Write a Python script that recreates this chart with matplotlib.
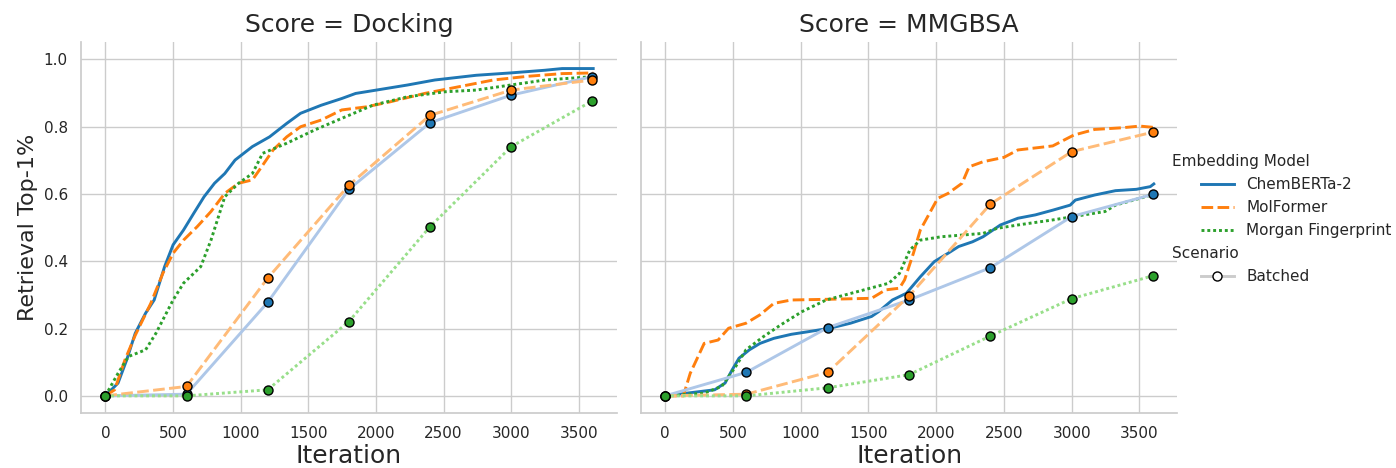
import numpy as np
import matplotlib
matplotlib.use("Agg")
import matplotlib.pyplot as plt
from matplotlib.lines import Line2D
from matplotlib.legend_handler import HandlerLine2D

# ── Style (seaborn whitegrid look, built by hand) ──
plt.rcParams.update({
    "font.family": ["DejaVu Sans"],
    "text.color": "#262626",
    "axes.labelcolor": "#262626",
    "xtick.color": "#262626",
    "ytick.color": "#262626",
    "axes.edgecolor": "#cccccc",
    "grid.color": "#cccccc",
    "axes.linewidth": 1.25,
    "grid.linewidth": 1.0,
})

# ── Data ──────────────────────────────────────────────────
models = ["ChemBERTa-2", "MolFormer", "Morgan Fingerprint"]
panels = ["Docking", "MMGBSA"]
batch_iter = [0, 600, 1200, 1800, 2400, 3000, 3600]

# batched retrieval (one value per batch iteration)
dock_batch_chem = [0.0, 0.005, 0.278, 0.614, 0.812, 0.894, 0.949]
dock_batch_molf = [0.0, 0.028, 0.350, 0.626, 0.834, 0.909, 0.939]
dock_batch_morg = [0.0, 0.0, 0.018, 0.221, 0.503, 0.741, 0.877]
mmgb_batch_chem = [0.0, 0.070, 0.203, 0.285, 0.381, 0.533, 0.599]
mmgb_batch_molf = [0.0, 0.005, 0.070, 0.297, 0.570, 0.726, 0.784]
mmgb_batch_morg = [0.0, 0.0, 0.024, 0.063, 0.178, 0.289, 0.357]

# continuous (one-at-a-time) retrieval curves
dock_chem_x = [0, 94, 158, 221, 298, 361, 438, 501, 578, 654, 730, 807, 883, 959, 1087,
               1214, 1341, 1443, 1596, 1748, 1850, 2003, 2232, 2436, 2741, 2995, 3250, 3377, 3606]
dock_chem_y = [0.0, 0.038, 0.107, 0.186, 0.246, 0.285, 0.384, 0.449, 0.493, 0.543, 0.592, 0.632,
               0.661, 0.701, 0.741, 0.770, 0.810, 0.840, 0.864, 0.884, 0.899, 0.909, 0.924, 0.939,
               0.953, 0.960, 0.968, 0.973, 0.973]
dock_molf_x = [0, 69, 145, 221, 336, 425, 501, 578, 679, 781, 883, 985, 1087, 1138, 1240, 1341,
               1443, 1596, 1748, 1926, 2104, 2359, 2512, 2868, 3123, 3377, 3606]
dock_molf_y = [0.0, 0.018, 0.107, 0.180, 0.275, 0.364, 0.424, 0.463, 0.503, 0.548, 0.602, 0.632,
               0.642, 0.671, 0.731, 0.770, 0.800, 0.820, 0.850, 0.859, 0.874, 0.899, 0.911, 0.939,
               0.950, 0.958, 0.960]
dock_morg_x = [0, 94, 171, 298, 374, 501, 578, 705, 781, 883, 985, 1087, 1163, 1341, 1545, 1748,
               1977, 2232, 2512, 2741, 2995, 3250, 3606]
dock_morg_y = [0.0, 0.067, 0.117, 0.137, 0.186, 0.285, 0.335, 0.384, 0.463, 0.592, 0.632, 0.661,
               0.721, 0.751, 0.790, 0.825, 0.864, 0.889, 0.904, 0.909, 0.924, 0.939, 0.949]

mmgb_chem_x = [0, 159, 365, 442, 494, 545, 622, 700, 802, 931, 1060, 1214, 1368, 1523, 1574, 1677,
               1780, 1883, 1986, 2088, 2166, 2268, 2346, 2474, 2603, 2732, 2860, 2989, 3027, 3169,
               3323, 3477, 3580, 3606]
mmgb_chem_y = [0.0, 0.008, 0.018, 0.038, 0.077, 0.112, 0.137, 0.156, 0.171, 0.183, 0.191, 0.201,
               0.216, 0.236, 0.250, 0.285, 0.305, 0.354, 0.399, 0.424, 0.444, 0.458, 0.473, 0.508,
               0.528, 0.538, 0.552, 0.567, 0.582, 0.597, 0.610, 0.614, 0.622, 0.630]
mmgb_molf_x = [0, 134, 185, 288, 391, 468, 597, 700, 802, 931, 1188, 1523, 1626, 1729, 1767, 1832,
               1883, 2011, 2088, 2191, 2243, 2346, 2500, 2603, 2860, 3014, 3169, 3374, 3503, 3606]
mmgb_molf_y = [0.0, 0.0, 0.067, 0.156, 0.166, 0.201, 0.216, 0.241, 0.275, 0.285, 0.287, 0.290,
               0.315, 0.320, 0.345, 0.424, 0.493, 0.587, 0.602, 0.632, 0.681, 0.696, 0.709, 0.731,
               0.743, 0.775, 0.792, 0.797, 0.802, 0.798]
mmgb_morg_x = [0, 288, 417, 520, 597, 725, 853, 1008, 1188, 1420, 1651, 1729, 1806, 1883, 2037,
               2346, 2449, 2603, 2860, 3014, 3246, 3323, 3606]
mmgb_morg_y = [0.0, 0.008, 0.028, 0.087, 0.137, 0.176, 0.211, 0.250, 0.285, 0.310, 0.335, 0.364,
               0.434, 0.463, 0.473, 0.483, 0.498, 0.508, 0.523, 0.533, 0.548, 0.567, 0.599]

continuous = {
    "Docking": [(dock_chem_x, dock_chem_y), (dock_molf_x, dock_molf_y), (dock_morg_x, dock_morg_y)],
    "MMGBSA": [(mmgb_chem_x, mmgb_chem_y), (mmgb_molf_x, mmgb_molf_y), (mmgb_morg_x, mmgb_morg_y)],
}
batched = {
    "Docking": [dock_batch_chem, dock_batch_molf, dock_batch_morg],
    "MMGBSA": [mmgb_batch_chem, mmgb_batch_molf, mmgb_batch_morg],
}

dark = ["#1f77b4", "#ff7f0e", "#2ca02c"]
light = ["#aec7e8", "#ffbb78", "#98df8a"]
dashes = [None, (4, 1.5), (1, 1)]

# ── Figure ────────────────────────────────────────────────
fig = plt.figure(figsize=(13.96, 4.68), dpi=100)
ax_l = fig.add_axes([0.058, 0.1182, 0.3838, 0.7921])
ax_r = fig.add_axes([0.459, 0.1182, 0.3844, 0.7921], sharey=ax_l)

for ax, name in [(ax_l, "Docking"), (ax_r, "MMGBSA")]:
    ax.grid(True, zorder=0)
    ax.set_axisbelow(True)
    for k in range(3):
        x, y = continuous[name][k]
        ln, = ax.plot(x, y, color=dark[k], lw=2.1, zorder=3)
        if dashes[k] is not None:
            ln.set_dashes(dashes[k])
    for k in range(3):
        ln, = ax.plot(batch_iter, batched[name][k], color=light[k], lw=2.1, zorder=4)
        if dashes[k] is not None:
            ln.set_dashes(dashes[k])
    for k in range(3):
        ax.plot(batch_iter, batched[name][k], ls="none", marker="o", ms=6.5,
                mfc=dark[k], mec="black", mew=1.0, zorder=5)
    ax.set_title(f"Score = {name}", fontsize=18, pad=7)
    ax.set_xlabel("Iteration", fontsize=18, labelpad=2)
    ax.set_xlim(-180, 3780)
    ax.set_xticks(np.arange(0, 3501, 500))
    ax.tick_params(length=0, pad=9.5, labelsize=11)
    for s in ["top", "right"]:
        ax.spines[s].set_visible(False)

ax_l.set_ylim(-0.05, 1.052)
ax_l.set_yticks([0.0, 0.2, 0.4, 0.6, 0.8, 1.0])
ax_l.set_yticklabels(["0.0", "0.2", "0.4", "0.6", "0.8", "1.0"])
ax_l.set_ylabel("Retrieval Top-1%", fontsize=16)
plt.setp(ax_r.get_yticklabels(), visible=False)

# ── Legend (seaborn-style subtitles) ──
blank = Line2D([], [], visible=False)
handles = [blank]
for k in range(3):
    h = Line2D([], [], color=dark[k], lw=2.1)
    if dashes[k] is not None:
        h.set_dashes(dashes[k])
    handles.append(h)
handles.append(Line2D([], [], visible=False))
handles.append(Line2D([], [], color="#cccccc", lw=2.1, marker="o", ms=6.5,
                      mfc="white", mec="black", mew=1.0))
labels = ["Embedding Model"] + models + ["Scenario", "Batched"]
leg = fig.legend(handles, labels, loc="center left", bbox_to_anchor=(0.821, 0.532),
                 frameon=False, fontsize=11, handlelength=4.84, labelspacing=0.52,
                 handler_map={Line2D: HandlerLine2D(xpad=2.68)})
hpackers = leg.findobj(matplotlib.offsetbox.VPacker)[0].get_children()
for hpack in hpackers:
    draw_area, text_area = hpack.get_children()
    arts = draw_area.get_children()
    if not all(a.get_visible() for a in arts):
        draw_area.set_width(0)

fig.savefig("out.png", dpi=100)
